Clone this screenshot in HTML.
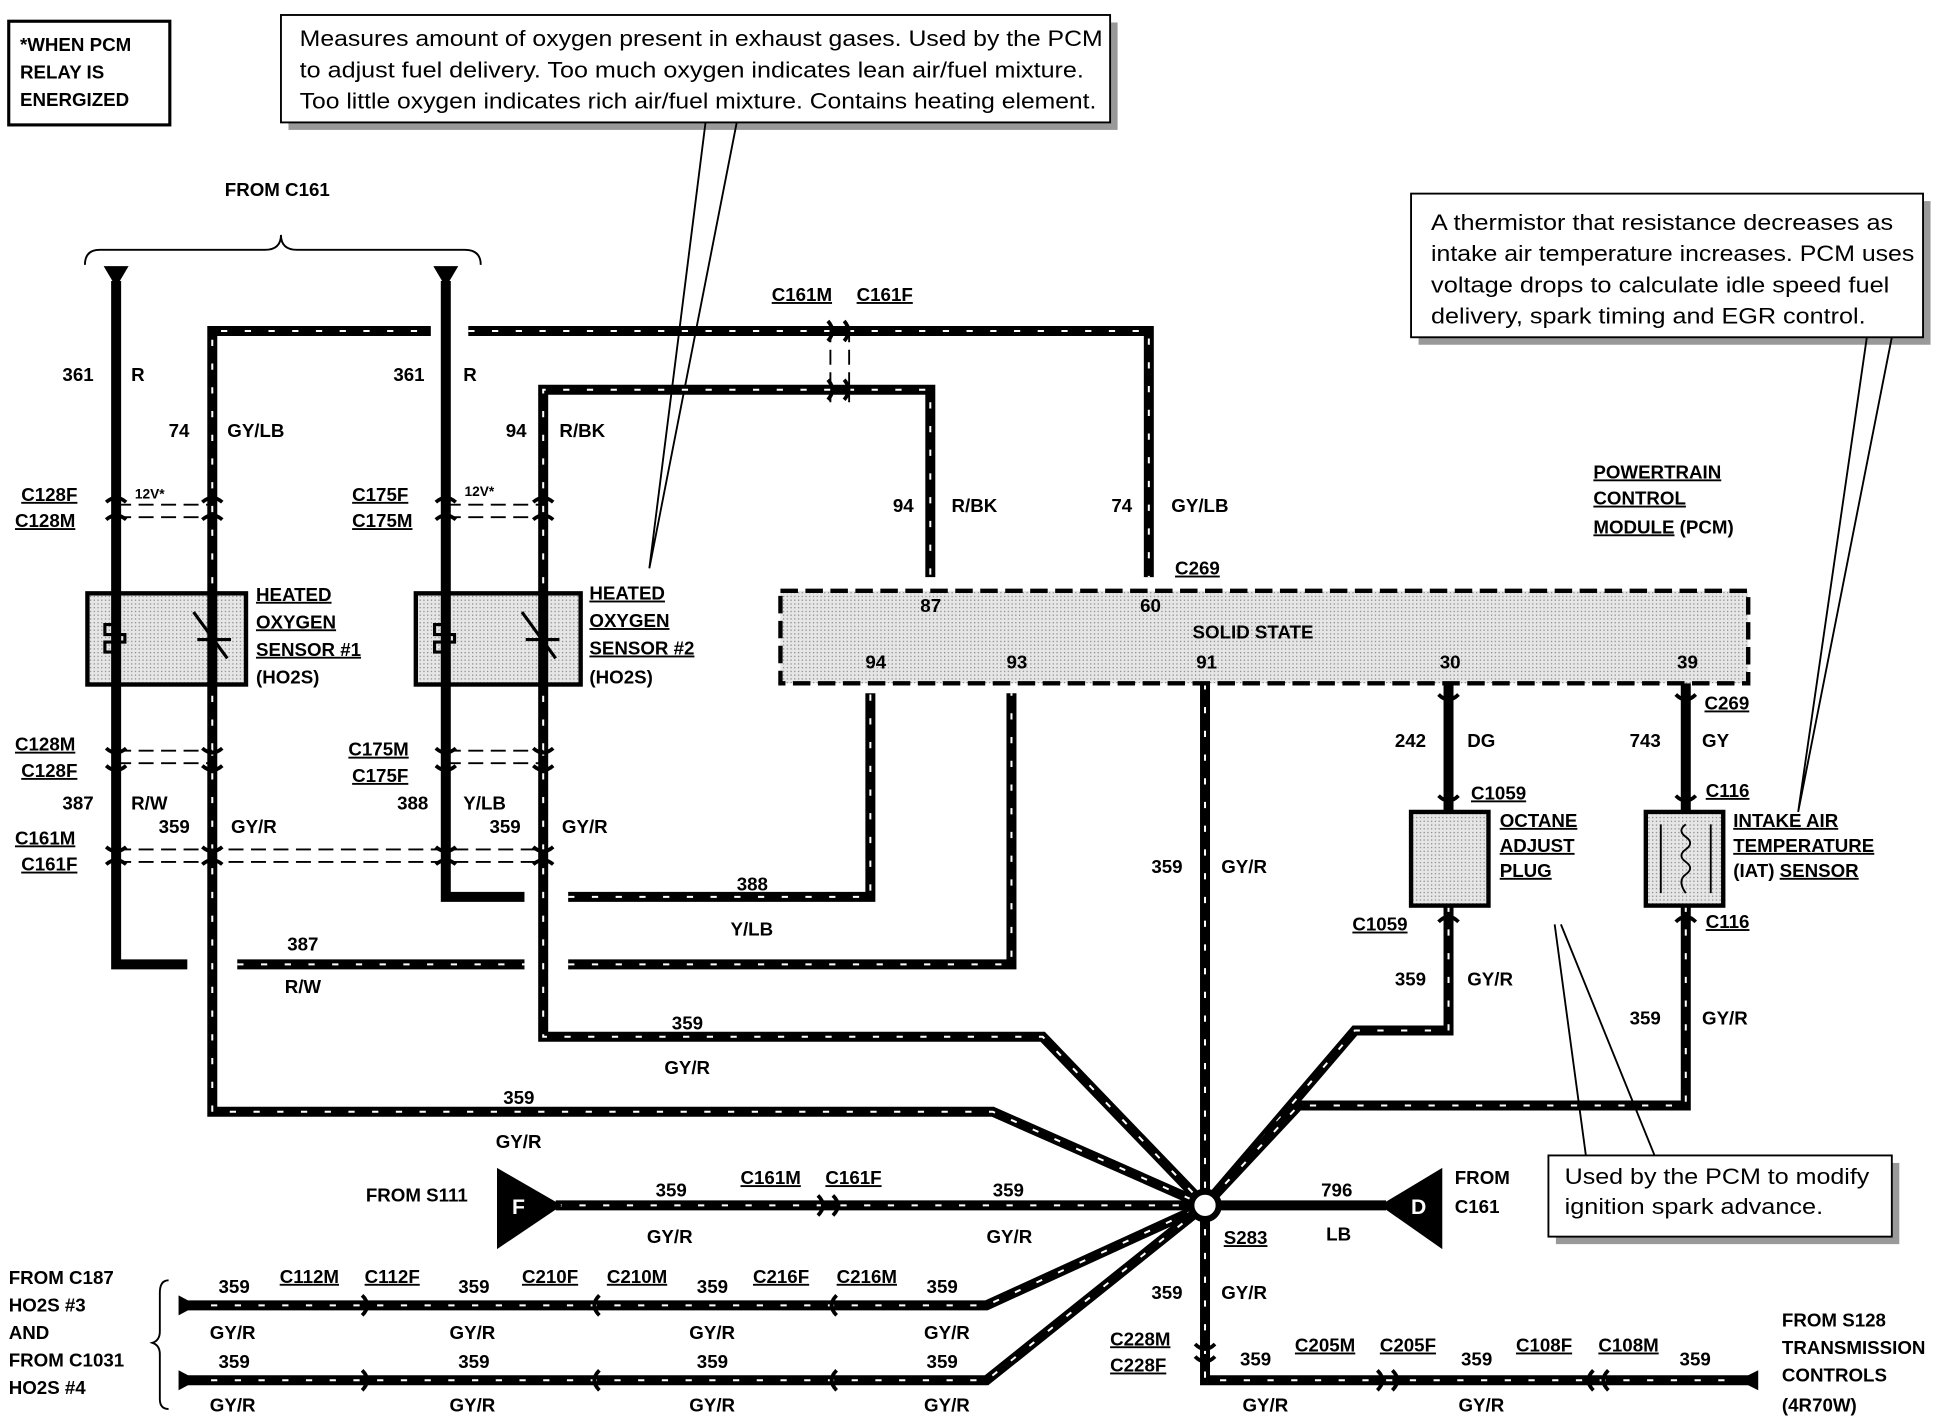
<!DOCTYPE html>
<html><head><style>
html,body{margin:0;padding:0;background:#fff}
svg{display:block}
text{font-family:"Liberation Sans",Arial,sans-serif;font-weight:bold;font-size:15px;fill:#000}
.n{font-weight:normal;font-size:18px}
.u{text-decoration:underline}
.w{fill:none;stroke:#000;stroke-width:8;stroke-linejoin:miter}
.s{fill:none;stroke:#fff;stroke-width:1.6;stroke-dasharray:5 14}
.thin{fill:none;stroke:#000;stroke-width:1.5}
</style></head><body>
<svg width="1958" height="1424" viewBox="0 0 1568 1140" preserveAspectRatio="none" xmlns="http://www.w3.org/2000/svg">
<defs>
<pattern id="dots" width="3" height="3" patternUnits="userSpaceOnUse"><rect width="3" height="3" fill="#e6e6e6"/><rect width="1" height="1" fill="#888"/></pattern>
<path id="p74" d="M170,600 V265 H345 M375,265 H920 V462"/>
<path id="p94" d="M435,600 V312 H745 V462"/>
<path id="p387" d="M190,772 H420 M455,772 H810 V555"/>
<path id="p388" d="M455,718 H697 V555"/>
<path id="p359a" d="M435,600 V830 H835 L965,965"/>
<path id="p359b" d="M170,600 V890 H795 L965,965"/>
<path id="p359c" d="M965,547 V1105 H1400"/>
<path id="p359d" d="M1160,725 V825 H1085 L965,965"/>
<path id="p359e" d="M1350,725 V885 H1040 L965,965"/>
<path id="p359f" d="M445,965 H965"/>
<path id="p359g" d="M150,1045 H790 L965,965"/>
<path id="p359h" d="M150,1105 H790 L965,965"/>
<path id="p242" d="M1160,547 V650"/>
<path id="p743" d="M1350,547 V650"/>
</defs>

<rect x="7" y="17" width="129" height="83" fill="#fff" stroke="#000" stroke-width="2.5"/>
<text x="16" y="41">*WHEN PCM</text><text x="16" y="63">RELAY IS</text><text x="16" y="85">ENERGIZED</text>

<rect x="231" y="18" width="664" height="86" fill="#999"/>
<rect x="225" y="12" width="664" height="86" fill="#fff" stroke="#000" stroke-width="1.5"/>
<text class="n" x="240" y="37" textLength="643" lengthAdjust="spacingAndGlyphs">Measures amount of oxygen present in exhaust gases.  Used by the PCM</text>
<text class="n" x="240" y="62" textLength="628" lengthAdjust="spacingAndGlyphs">to adjust fuel delivery.  Too much oxygen indicates lean air/fuel mixture.</text>
<text class="n" x="240" y="87" textLength="638" lengthAdjust="spacingAndGlyphs">Too little oxygen indicates rich air/fuel mixture.  Contains heating element.</text>
<path class="thin" d="M565,98 L520,455 M590,98 L520,455"/>

<rect x="1136" y="161" width="410" height="115" fill="#999"/>
<rect x="1130" y="155" width="410" height="115" fill="#fff" stroke="#000" stroke-width="1.5"/>
<text class="n" x="1146" y="184" textLength="370" lengthAdjust="spacingAndGlyphs">A thermistor that resistance decreases as</text>
<text class="n" x="1146" y="209" textLength="387" lengthAdjust="spacingAndGlyphs">intake air temperature increases.  PCM uses</text>
<text class="n" x="1146" y="234" textLength="367" lengthAdjust="spacingAndGlyphs">voltage drops to calculate idle speed fuel</text>
<text class="n" x="1146" y="259" textLength="348" lengthAdjust="spacingAndGlyphs">delivery, spark timing and EGR control.</text>
<path class="thin" d="M1495,270 L1440,650 M1515,270 L1440,650"/>

<rect x="1246" y="931" width="275" height="65" fill="#999"/>
<rect x="1240" y="925" width="275" height="65" fill="#fff" stroke="#000" stroke-width="1.5"/>
<text class="n" x="1253" y="948" textLength="244" lengthAdjust="spacingAndGlyphs">Used by the PCM to modify</text>
<text class="n" x="1253" y="972" textLength="207" lengthAdjust="spacingAndGlyphs">ignition spark advance.</text>
<path class="thin" d="M1270,925 L1245,740 M1325,925 L1250,740"/>

<text x="180" y="157">FROM C161</text>
<path class="thin" stroke-width="2.5" d="M68,212 Q68,200 80,200 H212 Q225,200 225,188 Q225,200 238,200 H372 Q385,200 385,212"/>

<path class="w" d="M93,225 V772 H150"/>
<path class="w" d="M357,225 V718 H420"/>
<polygon points="83,213 103,213 93,230"/>
<polygon points="347,213 367,213 357,230"/>

<g>
<use href="#p74" class="w"/><use href="#p74" class="s"/>
<use href="#p94" class="w"/><use href="#p94" class="s"/>
<use href="#p387" class="w"/><use href="#p387" class="s"/>
<use href="#p388" class="w"/><use href="#p388" class="s"/>
<use href="#p359a" class="w"/><use href="#p359a" class="s"/>
<use href="#p359b" class="w"/><use href="#p359b" class="s"/>
<use href="#p359c" class="w"/><use href="#p359c" class="s"/>
<use href="#p359d" class="w"/><use href="#p359d" class="s"/>
<use href="#p359e" class="w"/><use href="#p359e" class="s"/>
<use href="#p359f" class="w"/><use href="#p359f" class="s"/>
<use href="#p359g" class="w"/><use href="#p359g" class="s"/>
<use href="#p359h" class="w"/><use href="#p359h" class="s"/>
</g>
<use href="#p242" class="w"/><use href="#p743" class="w"/>
<path class="w" d="M975,965 H1110"/>

<g class="thin" stroke-width="2.5" stroke-dasharray="12 6">
<path d="M93,404 H170 M93,414 H170"/><path d="M357,404 H435 M357,414 H435"/>
<path d="M93,601 H170 M93,611 H170"/><path d="M357,601 H435 M357,611 H435"/>
<path d="M93,680 H435 M93,690 H435"/>
<path d="M665,262 V322 M680,262 V322"/>
</g>
<g fill="none" stroke="#000" stroke-width="3">
<path d="M85,402 Q93,395 101,402 M162,402 Q170,395 178,402 M349,402 Q357,395 365,402 M427,402 Q435,395 443,402"/>
<path d="M85,416 Q93,409 101,416 M162,416 Q170,409 178,416 M349,416 Q357,409 365,416 M427,416 Q435,409 443,416"/>
<path d="M85,599 Q93,606 101,599 M162,599 Q170,606 178,599 M349,599 Q357,606 365,599 M427,599 Q435,606 443,599"/>
<path d="M85,613 Q93,620 101,613 M162,613 Q170,620 178,613 M349,613 Q357,620 365,613 M427,613 Q435,620 443,613"/>
<path d="M85,678 Q93,685 101,678 M162,678 Q170,685 178,678 M349,678 Q357,685 365,678 M427,678 Q435,685 443,678"/>
<path d="M85,692 Q93,685 101,692 M162,692 Q170,685 178,692 M349,692 Q357,685 365,692 M427,692 Q435,685 443,692"/>
<path d="M663,257 Q670,265 663,273 M676,257 Q683,265 676,273 M663,304 Q670,312 663,320 M676,304 Q683,312 676,320"/>
<path d="M655,957 Q663,965 655,973 M667,957 Q675,965 667,973"/>
<path d="M1152,637 Q1160,645 1168,637 M1342,637 Q1350,645 1358,637"/>
<path d="M1152,738 Q1160,730 1168,738 M1342,738 Q1350,730 1358,738"/>
<path d="M1152,556 Q1160,564 1168,556 M1342,556 Q1350,564 1358,556"/>
<path d="M957,1076 Q965,1084 973,1076 M957,1086 Q965,1094 973,1086"/>
<path d="M1103,1097 Q1111,1105 1103,1113 M1115,1097 Q1123,1105 1115,1113 M1276,1097 Q1268,1105 1276,1113 M1288,1097 Q1280,1105 1288,1113"/>
<path d="M290,1037 Q298,1045 290,1053 M290,1097 Q298,1105 290,1113 M480,1037 Q472,1045 480,1053 M480,1097 Q472,1105 480,1113 M670,1037 Q662,1045 670,1053 M670,1097 Q662,1105 670,1113"/>
</g>
<polygon points="143,1037 143,1053 158,1045"/><polygon points="143,1097 143,1113 158,1105"/>
<polygon points="1408,1097 1408,1113 1392,1105"/>

<rect x="70" y="475" width="127" height="73" fill="url(#dots)" stroke="#000" stroke-width="3.5"/>
<rect x="333" y="475" width="132" height="73" fill="url(#dots)" stroke="#000" stroke-width="3.5"/>
<path class="w" d="M93,475 V548 M170,475 V548 M357,475 V548 M435,475 V548" stroke-width="6"/>
<g fill="none" stroke="#000" stroke-width="2.5">
<path d="M93,495 V500 H84 V508 H100 V514 H84 V522 H93 V530"/>
<path d="M357,495 V500 H348 V508 H364 V514 H348 V522 H357 V530"/>
<path d="M155,490 L182,527 M158,512 H185 M418,490 L445,527 M421,512 H448"/>
</g>

<rect x="625" y="473" width="775" height="74" fill="url(#dots)" stroke="#000" stroke-width="3.5" stroke-dasharray="14 6"/>
<text x="955" y="511">SOLID STATE</text>
<g style="font-size:10px">
<text x="737" y="490">87</text><text x="913" y="490">60</text>
<text x="693" y="535">94</text><text x="806" y="535">93</text><text x="958" y="535">91</text><text x="1153" y="535">30</text><text x="1343" y="535">39</text>
</g>

<rect x="1130" y="650" width="62" height="75" fill="url(#dots)" stroke="#000" stroke-width="3.5"/>
<rect x="1318" y="650" width="62" height="75" fill="url(#dots)" stroke="#000" stroke-width="3.5"/>
<path class="thin" stroke-width="2" d="M1350,660 Q1343,665 1350,670 Q1357,675 1350,680 Q1343,685 1350,690 Q1357,695 1350,700 Q1343,705 1350,715 M1330,660 V715 M1370,660 V715"/>

<circle cx="965" cy="965" r="11" fill="#fff" stroke="#000" stroke-width="5"/>

<polygon points="398,935 398,1000 450,965" fill="#000"/>
<text x="410" y="972" style="fill:#fff;font-size:17px">F</text>
<polygon points="1155,935 1155,1000 1105,965" fill="#000"/>
<text x="1130" y="972" style="fill:#fff;font-size:17px">D</text>

<text x="50" y="305">361</text><text x="105" y="305">R</text>
<text x="315" y="305">361</text><text x="371" y="305">R</text>
<text x="135" y="350">74</text><text x="182" y="350">GY/LB</text>
<text x="405" y="350">94</text><text x="448" y="350">R/BK</text>
<text x="715" y="410">94</text><text x="762" y="410">R/BK</text>
<text x="890" y="410">74</text><text x="938" y="410">GY/LB</text>
<text class="u" x="618" y="241">C161M</text><text class="u" x="686" y="241">C161F</text>
<text class="u" x="17" y="401">C128F</text><text class="u" x="12" y="422">C128M</text>
<text class="u" x="282" y="401">C175F</text><text class="u" x="282" y="422">C175M</text>
<text x="108" y="399" style="font-size:11px">12V*</text><text x="372" y="397" style="font-size:11px">12V*</text>
<text class="u" x="205" y="481">HEATED</text><text class="u" x="205" y="503">OXYGEN</text><text class="u" x="205" y="525">SENSOR #1</text><text x="205" y="547">(HO2S)</text>
<text class="u" x="472" y="480">HEATED</text><text class="u" x="472" y="502">OXYGEN</text><text class="u" x="472" y="524">SENSOR #2</text><text x="472" y="547">(HO2S)</text>
<text class="u" x="1276" y="383">POWERTRAIN</text><text class="u" x="1276" y="404">CONTROL</text><text x="1276" y="427"><tspan class="u">MODULE</tspan> (PCM)</text>
<text class="u" x="941" y="460">C269</text><text class="u" x="1365" y="568">C269</text>
<text class="u" x="12" y="601">C128M</text><text class="u" x="17" y="622">C128F</text>
<text class="u" x="279" y="605">C175M</text><text class="u" x="282" y="626">C175F</text>
<text x="50" y="648">387</text><text x="105" y="648">R/W</text>
<text x="318" y="648">388</text><text x="371" y="648">Y/LB</text>
<text x="127" y="667">359</text><text x="185" y="667">GY/R</text>
<text x="392" y="667">359</text><text x="450" y="667">GY/R</text>
<text class="u" x="12" y="676">C161M</text><text class="u" x="17" y="697">C161F</text>
<text x="1117" y="598">242</text><text x="1175" y="598">DG</text>
<text x="1305" y="598">743</text><text x="1363" y="598">GY</text>
<text class="u" x="1178" y="640">C1059</text><text class="u" x="1366" y="638">C116</text>
<text class="u" x="1201" y="662">OCTANE</text><text class="u" x="1201" y="682">ADJUST</text><text class="u" x="1201" y="702">PLUG</text>
<text class="u" x="1388" y="662">INTAKE AIR</text><text class="u" x="1388" y="682">TEMPERATURE</text><text x="1388" y="702">(IAT) <tspan class="u">SENSOR</tspan></text>
<text class="u" x="1083" y="745">C1059</text><text class="u" x="1366" y="743">C116</text>
<text x="922" y="699">359</text><text x="978" y="699">GY/R</text>
<text x="590" y="713">388</text><text x="585" y="749">Y/LB</text>
<text x="230" y="761">387</text><text x="228" y="795">R/W</text>
<text x="1117" y="789">359</text><text x="1175" y="789">GY/R</text>
<text x="1305" y="820">359</text><text x="1363" y="820">GY/R</text>
<text x="538" y="824">359</text><text x="532" y="860">GY/R</text>
<text x="403" y="884">359</text><text x="397" y="919">GY/R</text>
<text x="293" y="962">FROM S111</text>
<text x="525" y="958">359</text><text x="518" y="995">GY/R</text>
<text class="u" x="593" y="948">C161M</text><text class="u" x="661" y="948">C161F</text>
<text x="795" y="958">359</text><text x="790" y="995">GY/R</text>
<text x="1058" y="958">796</text><text x="1062" y="993">LB</text>
<text x="1165" y="948">FROM</text><text x="1165" y="971">C161</text>
<text class="u" x="980" y="996">S283</text>
<text x="922" y="1040">359</text><text x="978" y="1040">GY/R</text>
<text class="u" x="889" y="1077">C228M</text><text class="u" x="889" y="1098">C228F</text>
<text x="993" y="1093">359</text><text x="995" y="1130">GY/R</text>
<text class="u" x="1037" y="1082">C205M</text><text class="u" x="1105" y="1082">C205F</text>
<text x="1170" y="1093">359</text><text x="1168" y="1130">GY/R</text>
<text class="u" x="1214" y="1082">C108F</text><text class="u" x="1280" y="1082">C108M</text>
<text x="1345" y="1093">359</text><text x="1427" y="1130">(4R70W)</text>
<text x="1427" y="1062">FROM S128</text><text x="1427" y="1084">TRANSMISSION</text><text x="1427" y="1106">CONTROLS</text>
<text x="7" y="1028">FROM C187</text><text x="7" y="1050">HO2S #3</text><text x="7" y="1072">AND</text><text x="7" y="1094">FROM C1031</text><text x="7" y="1116">HO2S #4</text>
<path class="thin" stroke-width="2.5" d="M135,1025 Q128,1025 128,1035 V1066 Q128,1073 122,1075 Q128,1077 128,1084 V1120 Q128,1128 135,1128"/>
<text x="175" y="1035">359</text><text x="168" y="1072">GY/R</text>
<text x="175" y="1095">359</text><text x="168" y="1130">GY/R</text>
<text class="u" x="224" y="1027">C112M</text><text class="u" x="292" y="1027">C112F</text>
<text class="u" x="418" y="1027">C210F</text><text class="u" x="486" y="1027">C210M</text>
<text class="u" x="603" y="1027">C216F</text><text class="u" x="670" y="1027">C216M</text>
<text x="367" y="1035">359</text><text x="360" y="1072">GY/R</text>
<text x="367" y="1095">359</text><text x="360" y="1130">GY/R</text>
<text x="558" y="1035">359</text><text x="552" y="1072">GY/R</text>
<text x="558" y="1095">359</text><text x="552" y="1130">GY/R</text>
<text x="742" y="1035">359</text><text x="740" y="1072">GY/R</text>
<text x="742" y="1095">359</text><text x="740" y="1130">GY/R</text>
</svg>
</body></html>
